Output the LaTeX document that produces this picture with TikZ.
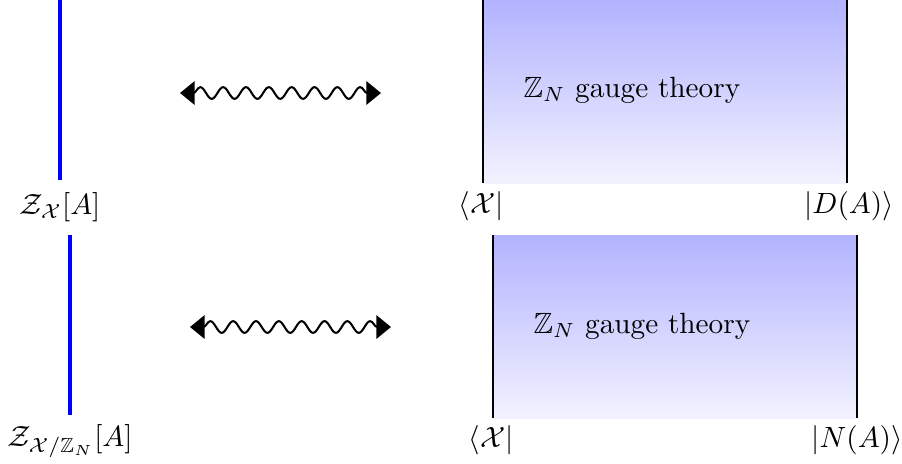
\documentclass[tikz,border=0pt]{standalone}
\usepackage{amssymb}
\usetikzlibrary{decorations.pathmorphing,arrows.meta}
\begin{document}
\begin{tikzpicture}[x=0.3415pt,y=-0.3415pt,
  bline/.style={blue,line width=1.1pt},
  side/.style={black,line width=0.9pt},
  wavy/.style={line width=0.7pt,{Triangle[width=8pt,length=5pt]}-{Triangle[width=8pt,length=5pt]},
    decorate,decoration={snake,amplitude=2pt,segment length=7.8pt,pre length=4.5pt,post length=4.5pt}},
  lab/.style={inner sep=0pt}]
\useasboundingbox (0,0) rectangle (902,463);
% top row
\shade[top color=blue!30,bottom color=blue!5] (483,0) rectangle (847,183);
\coordinate (t1) at (483,0); \coordinate (t2) at (483,183);
\coordinate (t3) at (847,0); \coordinate (t4) at (847,183);
\draw[side] (t1) -- (t2);
\draw[side] (t3) -- (t4);
\coordinate (b1) at (60,0); \coordinate (b2) at (60,180);
\draw[bline] (b1) -- (b2);
\coordinate (w1) at (180,93); \coordinate (w2) at (381,93);
\draw[wavy] (w1) -- (w2);
\node[lab] (gt1) at (632,90) {$\mathbb{Z}_N$ gauge theory};
\node[lab] (zx) at (60,207) {$\mathcal{Z}_{\mathcal{X}}[A]$};
\node[lab] (bra1) at (481,206) {$\langle\mathcal{X}|$};
\node[lab] (ket1) at (849,206) {$|D(A)\rangle$};
% bottom row
\shade[top color=blue!30,bottom color=blue!5] (493,235) rectangle (857,418);
\coordinate (s1) at (493,235); \coordinate (s2) at (493,418);
\coordinate (s3) at (857,235); \coordinate (s4) at (857,418);
\draw[side] (s1) -- (s2);
\draw[side] (s3) -- (s4);
\coordinate (c1) at (70,235); \coordinate (c2) at (70,415);
\draw[bline] (c1) -- (c2);
\coordinate (v1) at (190,327); \coordinate (v2) at (391,327);
\draw[wavy] (v1) -- (v2);
\node[lab] (gt2) at (642,326) {$\mathbb{Z}_N$ gauge theory};
\node[lab] (zxn) at (70,441) {$\mathcal{Z}_{\mathcal{X}/\mathbb{Z}_N}[A]$};
\node[lab] (bra2) at (491,440) {$\langle\mathcal{X}|$};
\node[lab] (ket2) at (857,440) {$|N(A)\rangle$};
\end{tikzpicture}
\end{document}
